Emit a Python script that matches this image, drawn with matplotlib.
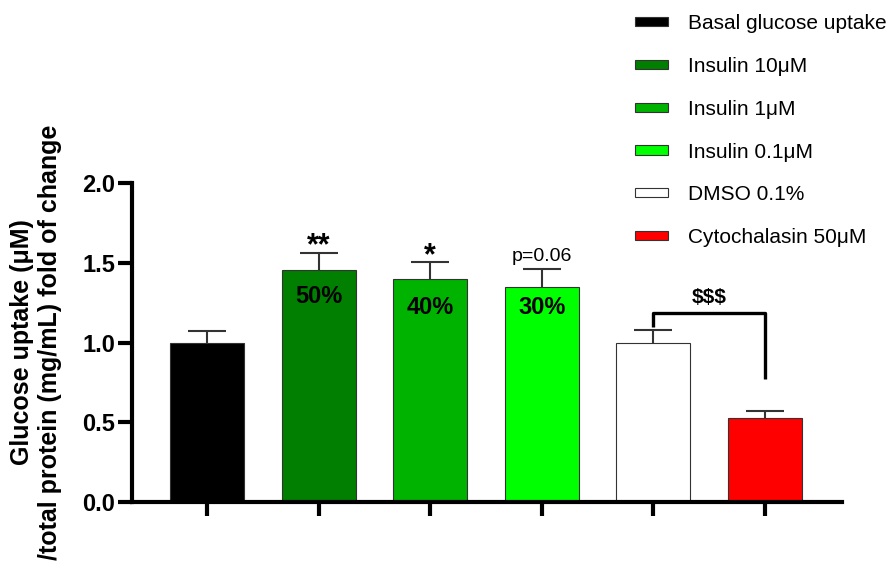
import matplotlib
matplotlib.use("Agg")
import matplotlib.pyplot as plt
import numpy as np

plt.rcParams['font.family'] = ['Liberation Sans', 'DejaVu Sans']

groups = ["Basal glucose uptake", "Insulin 10μM", "Insulin 1μM", "Insulin 0.1μM",
          "DMSO 0.1%", "Cytochalasin 50μM"]
means = [1.00, 1.455, 1.395, 1.345, 1.00, 0.525]
errs = [0.073, 0.108, 0.107, 0.113, 0.079, 0.046]
colors = ["#000000", "#007f00", "#00b300", "#00ff00", "#ffffff", "#ff0000"]
sig_labels = ["", "**", "*", "p=0.06", "", ""]
pct_labels = ["", "50%", "40%", "30%", "", ""]
pct_y = [None, 1.29, 1.22, 1.22, None, None]
bracket_pair = (4, 5)
bracket_label = "$$$"
bracket_top = 1.185
bracket_right_bottom = 0.771

fig = plt.figure(figsize=(8.94, 5.71), dpi=100)
ax = fig.add_axes([132/894, 69/571, 710/894, 319/571])

x = np.arange(len(groups))
bars = ax.bar(x, means, width=0.663, color=colors, edgecolor="#333333",
              linewidth=0.8, zorder=2)

eb = ax.errorbar(x, means, yerr=[np.zeros(len(errs)), errs], fmt='none',
                 ecolor="#333333", elinewidth=1.5, capsize=13.5, capthick=1.5, zorder=1)
eb[1][0].set_visible(False)

for xi, m, e, s in zip(x, means, errs, sig_labels):
    if not s:
        continue
    if s.startswith("p"):
        ax.annotate(s, (xi, m + e), xytext=(0, 3), textcoords='offset points',
                    ha='center', va='bottom', fontsize=14)
    else:
        ax.annotate(s, (xi, m + e), xytext=(0, -6), textcoords='offset points',
                    ha='center', va='bottom', fontsize=22, fontweight='bold')

for xi, p, py in zip(x, pct_labels, pct_y):
    if p:
        ax.text(xi, py, p, ha='center', va='center', fontsize=17, fontweight='bold')

i, j = bracket_pair
ax.plot([x[i], x[i], x[j], x[j]],
        [means[i] + errs[i] + 0.02, bracket_top, bracket_top, bracket_right_bottom],
        color='black', linewidth=2.4, solid_capstyle='butt', zorder=3)
ax.text((x[i] + x[j]) / 2, bracket_top + 0.04, bracket_label, ha='center', va='bottom',
        fontsize=15, fontweight='bold')

ax.set_xlim(-0.672, 5.69)
ax.set_ylim(0, 2.0)
ax.set_yticks([0.0, 0.5, 1.0, 1.5, 2.0])
ax.set_yticklabels(["0.0", "0.5", "1.0", "1.5", "2.0"])
ax.set_xticks(x)
ax.set_xticklabels([])
for sp in ['top', 'right']:
    ax.spines[sp].set_visible(False)
for sp in ['left', 'bottom']:
    ax.spines[sp].set_linewidth(3)
ax.tick_params(axis='both', length=10, width=3, color='black')
ax.tick_params(axis='y', labelsize=17, pad=2)
for lab in ax.get_yticklabels():
    lab.set_fontweight('bold')

ax.set_ylabel("Glucose uptake (μM)\n/total protein (mg/mL) fold of change",
              fontsize=18, fontweight='bold', va='center', ha='center',
              linespacing=1.2)
ax.yaxis.set_label_coords(-0.135, 0.5)

fig.legend(handles=list(bars), labels=groups, loc='upper left',
           bbox_to_anchor=(635/894, 0.975), frameon=False, fontsize=15,
           handlelength=1.59, handleheight=0.3, handletextpad=0.96,
           labelspacing=1.14, borderpad=0, borderaxespad=0)

fig.savefig("out.png", dpi=100)
